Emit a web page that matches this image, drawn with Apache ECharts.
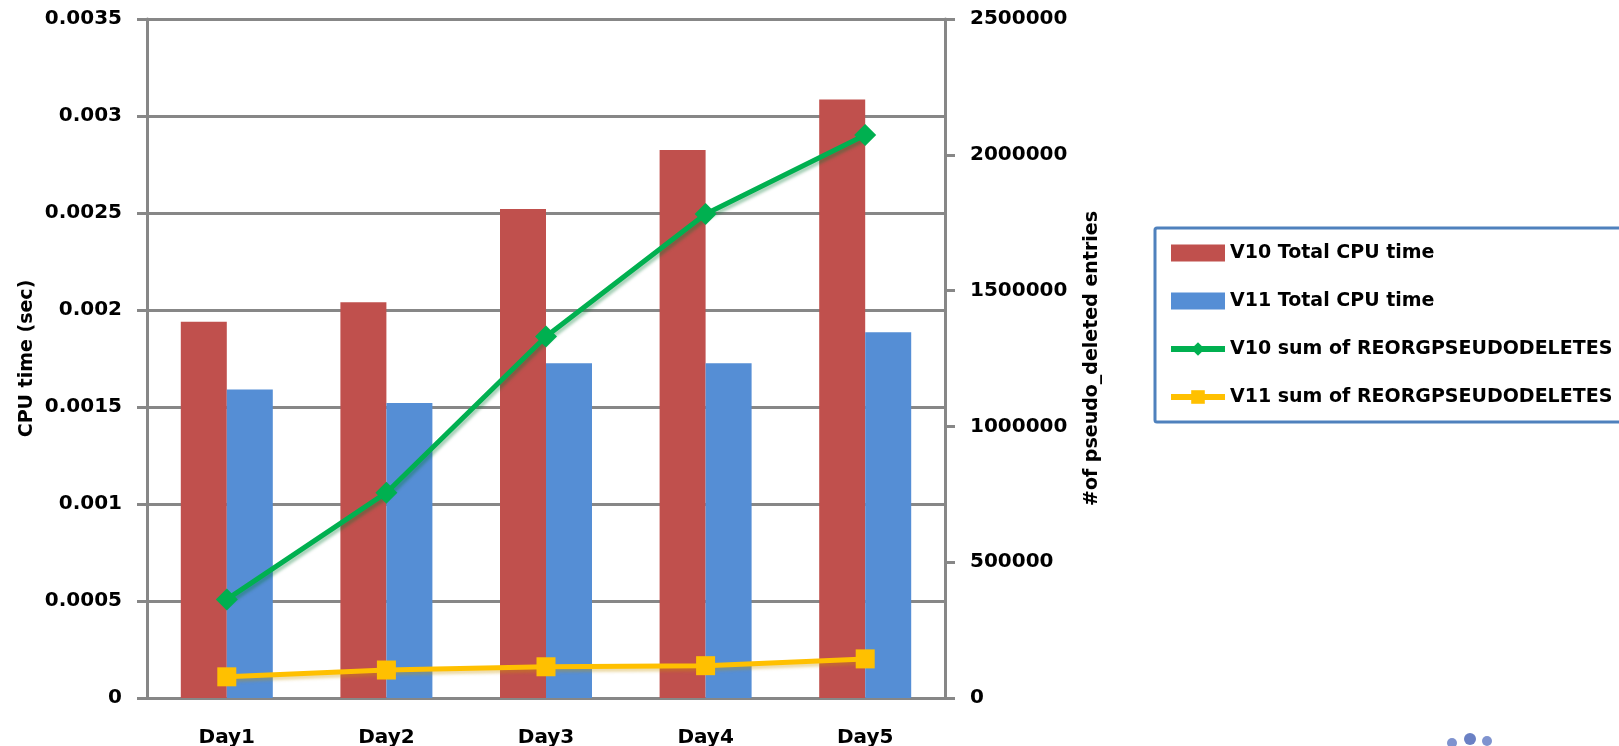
<!DOCTYPE html>
<html>
<head>
<meta charset="utf-8">
<script src="https://cdn.jsdelivr.net/npm/echarts@6/dist/echarts.min.js"></script>
<style>
  html, body { margin: 0; padding: 0; background: #fff; }
  #chart { width: 1619px; height: 746px; }
</style>
</head>
<body>
<div id="chart"></div>
<script>
const days = ['Day1', 'Day2', 'Day3', 'Day4', 'Day5']
const v10Cpu = [0.00194, 0.00204, 0.00252, 0.002825, 0.003085]
const v11Cpu = [0.00159, 0.00152, 0.001725, 0.001725, 0.001885]
const v10Pseudo = [363000, 756000, 1331000, 1782000, 2073000]
const v11Pseudo = [78000, 103000, 115000, 119000, 144000]

const font = 'DejaVu Sans'
const grey = '#878787'

const chart = echarts.init(document.getElementById('chart'))

const option = {
  animation: false,
  backgroundColor: '#fff',
  grid: { left: 147, right: 674, top: 19, bottom: 48, outerBoundsMode: 'none' },
  legend: {
    orient: 'vertical',
    left: 1155,
    top: 228,
    padding: [14, 40, 14, 13],
    itemWidth: 54,
    itemHeight: 17,
    itemGap: 26,
    borderColor: '#4f81bd',
    borderWidth: 3,
    borderRadius: 2,
    textStyle: { fontFamily: font, fontWeight: 'bold', fontSize: 19, lineHeight: 22, color: '#000' },
    data: [
      { name: 'V10 Total CPU time', icon: 'rect' },
      { name: 'V11 Total CPU time', icon: 'rect' },
      { name: 'V10 sum of REORGPSEUDODELETES', lineStyle: { width: 6 } },
      { name: 'V11 sum of REORGPSEUDODELETES', lineStyle: { width: 6 } }
    ]
  },
  xAxis: {
    type: 'category',
    data: days,
    axisLine: { lineStyle: { color: grey, width: 3 } },
    axisTick: { length: 10, lineStyle: { color: grey, width: 3 } },
    axisLabel: { margin: 30, fontFamily: font, fontWeight: 'bold', fontSize: 20, color: '#000' }
  },
  yAxis: [
    {
      type: 'value',
      min: 0,
      max: 0.0035,
      interval: 0.0005,
      name: 'CPU time (sec)',
      nameLocation: 'middle',
      nameRotate: 90,
      nameGap: 110,
      nameTextStyle: { fontFamily: font, fontWeight: 'bold', fontSize: 19, color: '#000' },
      axisLine: { show: true, lineStyle: { color: grey, width: 3 } },
      axisTick: { show: true, length: 10, lineStyle: { color: grey, width: 3 } },
      axisLabel: { margin: 25, fontFamily: font, fontWeight: 'bold', fontSize: 20, color: '#000' },
      splitLine: { show: true, lineStyle: { color: grey, width: 3 } }
    },
    {
      type: 'value',
      min: 0,
      max: 2500000,
      interval: 500000,
      position: 'right',
      name: '#of pseudo_deleted entries',
      nameLocation: 'middle',
      nameRotate: 90,
      nameGap: 138,
      nameTextStyle: { fontFamily: font, fontWeight: 'bold', fontSize: 19, color: '#000' },
      axisLine: { show: true, lineStyle: { color: grey, width: 3 } },
      axisTick: { show: true, length: 10, lineStyle: { color: grey, width: 3 } },
      axisLabel: {
        margin: 25, fontFamily: font, fontWeight: 'bold', fontSize: 20, color: '#000',
        formatter: v => String(v)
      },
      splitLine: { show: false }
    }
  ],
  series: [
    {
      name: 'V10 Total CPU time',
      type: 'bar',
      data: v10Cpu,
      barWidth: 46,
      barGap: '0%',
      itemStyle: { color: '#c0504d' }
    },
    {
      name: 'V11 Total CPU time',
      type: 'bar',
      data: v11Cpu,
      barWidth: 46,
      barGap: '0%',
      itemStyle: { color: '#558ed5' }
    },
    {
      name: 'V10 sum of REORGPSEUDODELETES',
      type: 'line',
      yAxisIndex: 1,
      data: v10Pseudo,
      symbol: 'diamond',
      symbolSize: 22,
      lineStyle: { color: '#00b050', width: 5, shadowColor: 'rgba(0,120,50,0.35)', shadowBlur: 3, shadowOffsetX: 2, shadowOffsetY: 3 },
      itemStyle: { color: '#00b050' }
    },
    {
      name: 'V11 sum of REORGPSEUDODELETES',
      type: 'line',
      yAxisIndex: 1,
      data: v11Pseudo,
      symbol: 'rect',
      symbolSize: 19,
      lineStyle: { color: '#ffc000', width: 5, shadowColor: 'rgba(200,150,0,0.35)', shadowBlur: 3, shadowOffsetX: 2, shadowOffsetY: 3 },
      itemStyle: { color: '#ffc000' }
    }
  ],
  graphic: [
    { type: 'circle', left: 1447, top: 738, shape: { r: 5 }, style: { fill: '#7f93cf' } },
    { type: 'circle', left: 1464, top: 733, shape: { r: 6 }, style: { fill: '#6a80c4' } },
    { type: 'circle', left: 1482, top: 736, shape: { r: 5 }, style: { fill: '#7f93cf' } }
  ]
}

chart.setOption(option)
window.addEventListener('resize', chart.resize)
</script>
</body>
</html>
